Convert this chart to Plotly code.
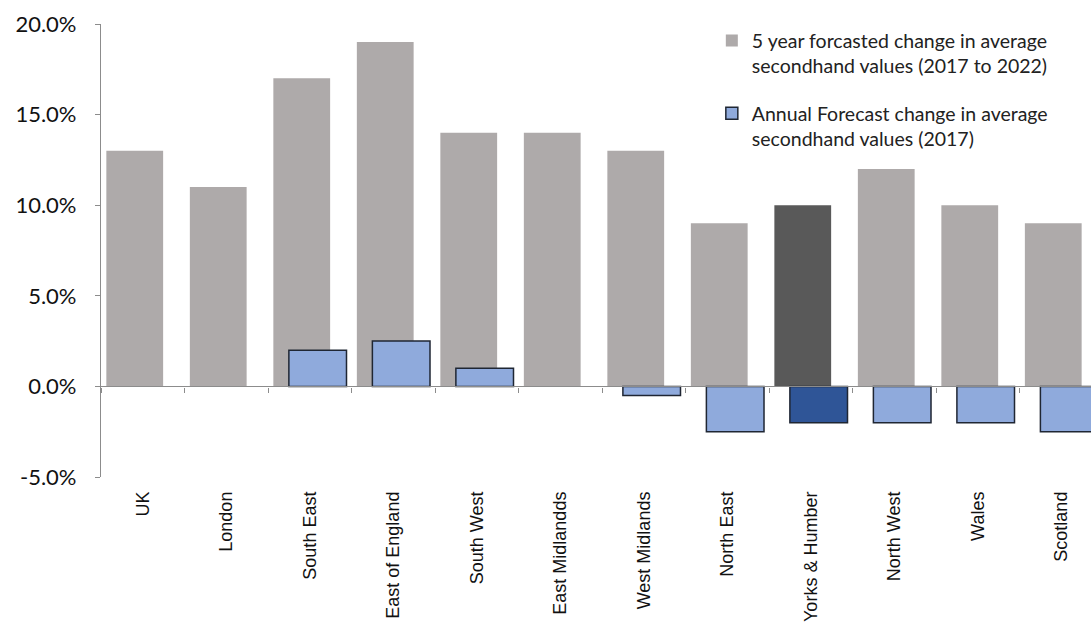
import plotly.graph_objects as go

regions = ["UK", "London", "South East", "East of England", "South West", "East Midlandds",
           "West Midlands", "North East", "Yorks & Humber", "North West", "Wales", "Scotland"]
five_year = [13, 11, 17, 19, 14, 14, 13, 9, 10, 12, 10, 9]
annual = [0, 0, 2, 2.5, 1, 0, -0.5, -2.5, -2, -2, -2, -2.5]
y_tick_values = [-5, 0, 5, 10, 15, 20]
y_tick_labels = ["-5.0%", "0.0%", "5.0%", "10.0%", "15.0%", "20.0%"]
name_5y = "5 year forcasted change in average<br>secondhand values (2017 to 2022)"
name_an = "Annual Forecast change in average<br>secondhand values (2017)"
highlight = "Yorks & Humber"

grey = "#AEAAAA"
grey_hi = "#595959"
blue = "#8FAADC"
blue_hi = "#2F5597"
edge = "#1F2633"

fig = go.Figure()
fig.add_trace(go.Bar(
    x=regions, y=[v / 100 for v in five_year], name=name_5y, legendgroup="a",
    marker=dict(color=[grey_hi if r == highlight else grey for r in regions], line=dict(width=0)),
    offset=-0.436, width=0.68, xaxis="x", yaxis="y",
))
fig.add_trace(go.Bar(
    x=regions, y=[(v / 100) if v != 0 else None for v in annual], name=name_an, legendgroup="b",
    marker=dict(color=[blue_hi if r == highlight else blue for r in regions],
                line=dict(color=edge, width=1.5)),
    offset=-0.25, width=0.69, xaxis="x2", yaxis="y",
))

fig.update_layout(
    width=1091, height=630,
    margin=dict(l=101, r=0, t=24, b=153),
    paper_bgcolor="white", plot_bgcolor="white",
    barmode="overlay",
    showlegend=True,
    legend=dict(x=0.617, y=1.006, xanchor="left", yanchor="top",
                font=dict(family="Lato", size=19.5, color="#222222"),
                valign="top", traceorder="grouped", tracegroupgap=19,
                bgcolor="rgba(0,0,0,0)", itemwidth=30),
    xaxis=dict(range=[-0.5, 11.356], showline=False, ticks="", tickangle=-90,
               showgrid=False, zeroline=False,
               tickfont=dict(family="Liberation Sans", size=18, color="#111111"),
               ticklabelstandoff=10),
    xaxis2=dict(matches="x", overlaying="x", anchor="free", position=0.2,
                showline=True, linecolor="#8C8C8C", linewidth=1.2,
                ticks="outside", tickson="boundaries", ticklen=5, tickcolor="#8C8C8C",
                showticklabels=False, showgrid=False, zeroline=False),
    yaxis=dict(range=[-0.05, 0.20], tickvals=[v / 100 for v in y_tick_values],
               ticktext=y_tick_labels, showline=True, linecolor="#8C8C8C", linewidth=1.2,
               ticks="outside", ticklen=5, tickcolor="#8C8C8C",
               showgrid=False, zeroline=False,
               tickfont=dict(family="Lato", size=22, color="#111111"),
               ticklabelstandoff=14),
)

fig.write_html("out.html")
